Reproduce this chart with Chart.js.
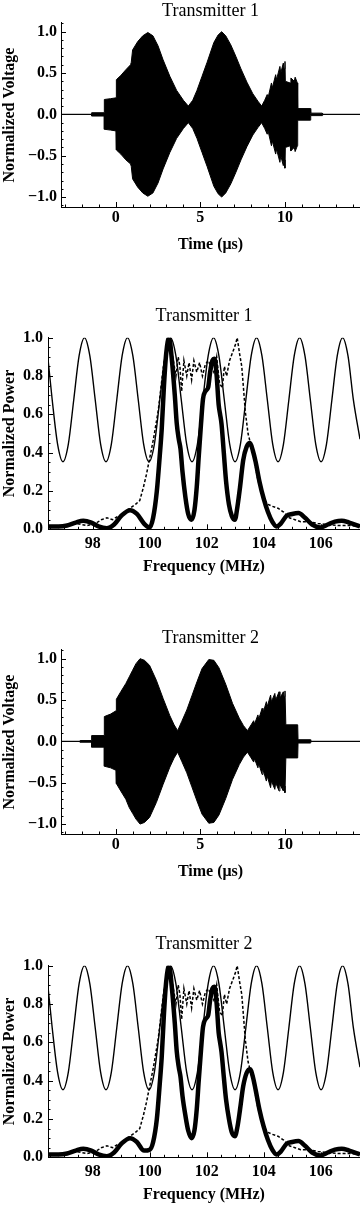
<!DOCTYPE html>
<html><head><meta charset="utf-8">
<script src="https://cdn.jsdelivr.net/npm/chart.js@4.4.0/dist/chart.umd.min.js"></script>
<style>
html,body{margin:0;padding:0;background:#fff;}
#wrap{position:relative;width:360px;height:1206px;overflow:hidden;background:#fff;}
canvas{position:absolute;left:0;}
</style></head><body>
<div id="wrap">
<canvas id="c1" width="360" height="300" style="top:0px"></canvas>
<canvas id="c2" width="360" height="300" style="top:300px"></canvas>
<canvas id="c3" width="360" height="300" style="top:627px"></canvas>
<canvas id="c4" width="360" height="278" style="top:928px"></canvas>
</div>
<script>
// ---------- tick labels ----------
const timeTicks = [0, 5, 10];
const voltTicks = [-1.0, -0.5, 0.0, 0.5, 1.0];
const freqTicks = [98, 100, 102, 104, 106];
const powerTicks = [0.0, 0.2, 0.4, 0.6, 0.8, 1.0];

// ---------- Transmitter 1: time-domain envelope (µs, normalized voltage) ----------
const time1 = [-3.3, -1.42, -1.42, -0.67, -0.67, -0.3, 0.02, 0.04, 0.3, 0.6, 0.88, 0.92, 1.0, 1.3, 1.6, 1.9, 2.2, 2.5, 2.8, 3.2, 3.6, 4.0, 4.29, 4.55, 4.8, 5.1, 5.4, 5.8, 6.05, 6.26, 6.5, 6.8, 7.1, 7.4, 7.75, 8.1, 8.4, 8.62, 8.8, 8.95, 9.0, 9.2, 9.25, 9.45, 9.5, 9.7, 9.75, 9.9, 9.95, 10.0, 10.02, 10.3, 10.35, 10.55, 10.6, 10.73, 10.75, 11.5, 11.52, 12.2, 12.22, 14.5];
const upper1 = [0, 0, 0.02, 0.02, 0.18, 0.19, 0.2, 0.42, 0.47, 0.54, 0.6, 0.63, 0.78, 0.88, 0.95, 0.99, 0.95, 0.83, 0.66, 0.46, 0.29, 0.17, 0.1, 0.17, 0.29, 0.46, 0.63, 0.87, 0.96, 1.0, 0.95, 0.84, 0.7, 0.55, 0.39, 0.25, 0.16, 0.1, 0.17, 0.24, 0.2, 0.38, 0.32, 0.48, 0.42, 0.58, 0.5, 0.62, 0.55, 0.64, 0.4, 0.38, 0.44, 0.4, 0.45, 0.38, 0.07, 0.07, 0.015, 0.015, 0, 0];
const lower1 = [0, 0, -0.02, -0.02, -0.18, -0.19, -0.2, -0.43, -0.48, -0.55, -0.6, -0.63, -0.78, -0.88, -0.95, -0.99, -0.95, -0.83, -0.66, -0.46, -0.29, -0.17, -0.1, -0.17, -0.29, -0.46, -0.63, -0.87, -0.96, -1.0, -0.95, -0.84, -0.7, -0.55, -0.39, -0.25, -0.16, -0.1, -0.17, -0.24, -0.2, -0.38, -0.32, -0.48, -0.42, -0.58, -0.5, -0.62, -0.55, -0.65, -0.4, -0.38, -0.44, -0.4, -0.45, -0.38, -0.07, -0.07, -0.015, -0.015, 0, 0];

// ---------- Transmitter 2: time-domain envelope ----------
const time2 = [-3.3, -2.1, -2.1, -1.42, -1.42, -0.67, -0.67, -0.3, 0.02, 0.04, 0.3, 0.6, 0.8, 1.0, 1.2, 1.44, 1.7, 2.0, 2.4, 2.8, 3.2, 3.45, 3.66, 3.9, 4.2, 4.5, 4.8, 5.1, 5.5, 5.8, 6.1, 6.5, 6.9, 7.3, 7.55, 7.78, 8.0, 8.15, 8.2, 8.4, 8.45, 8.65, 8.7, 8.9, 8.95, 9.15, 9.2, 9.4, 9.45, 9.65, 9.7, 9.9, 9.95, 10.0, 10.05, 10.75, 10.77, 11.5, 11.52, 14.5];
const upper2 = [0, 0, 0.01, 0.01, 0.07, 0.07, 0.3, 0.33, 0.37, 0.51, 0.6, 0.7, 0.78, 0.86, 0.94, 1.0, 0.98, 0.92, 0.74, 0.52, 0.31, 0.2, 0.13, 0.24, 0.38, 0.55, 0.72, 0.88, 0.99, 0.98, 0.89, 0.69, 0.46, 0.28, 0.19, 0.13, 0.2, 0.25, 0.21, 0.32, 0.27, 0.4, 0.34, 0.48, 0.42, 0.56, 0.48, 0.58, 0.5, 0.6, 0.52, 0.6, 0.54, 0.61, 0.2, 0.2, 0.02, 0.02, 0, 0];
const lower2 = [0, 0, -0.01, -0.01, -0.07, -0.07, -0.3, -0.32, -0.35, -0.51, -0.6, -0.7, -0.8, -0.87, -0.94, -1.0, -0.98, -0.92, -0.74, -0.52, -0.31, -0.2, -0.13, -0.24, -0.38, -0.55, -0.72, -0.88, -0.99, -0.98, -0.89, -0.69, -0.46, -0.28, -0.19, -0.13, -0.2, -0.25, -0.21, -0.32, -0.27, -0.4, -0.34, -0.48, -0.42, -0.56, -0.48, -0.58, -0.5, -0.6, -0.52, -0.6, -0.54, -0.62, -0.2, -0.2, -0.02, -0.02, 0, 0];

// ---------- spectra (MHz, normalized power) ----------
const filterFreq = [96.43, 96.578, 96.766, 96.955, 97.144, 97.333, 97.521, 97.71, 97.899, 98.088, 98.276, 98.465, 98.654, 98.843, 99.031, 99.22, 99.409, 99.598, 99.786, 99.975, 100.164, 100.353, 100.541, 100.73, 100.919, 101.108, 101.296, 101.485, 101.674, 101.863, 102.051, 102.24, 102.429, 102.618, 102.806, 102.995, 103.184, 103.373, 103.561, 103.75, 103.939, 104.128, 104.316, 104.505, 104.694, 104.883, 105.071, 105.26, 105.449, 105.638, 105.826, 106.015, 106.204, 106.393, 106.581, 106.77, 106.959, 107.148, 107.38];
const filterResp = [0.89, 0.675, 0.445, 0.353, 0.445, 0.675, 0.905, 1.0, 0.905, 0.675, 0.445, 0.353, 0.445, 0.675, 0.905, 1.0, 0.905, 0.675, 0.445, 0.353, 0.445, 0.675, 0.905, 1.0, 0.905, 0.675, 0.445, 0.353, 0.445, 0.675, 0.905, 1.0, 0.905, 0.675, 0.445, 0.353, 0.445, 0.675, 0.905, 1.0, 0.905, 0.675, 0.445, 0.353, 0.445, 0.675, 0.905, 1.0, 0.905, 0.675, 0.445, 0.353, 0.445, 0.675, 0.905, 1.0, 0.905, 0.675, 0.47];

const dashFreq = [96.43, 96.8, 97.1, 97.4, 97.8, 98.1, 98.3, 98.5, 98.7, 98.9, 99.1, 99.3, 99.5, 99.65, 99.78, 99.89, 100.01, 100.13, 100.3, 100.48, 100.65, 100.75, 100.83, 100.92, 101.0, 101.06, 101.12, 101.2, 101.3, 101.38, 101.47, 101.55, 101.65, 101.75, 101.85, 101.95, 102.05, 102.15, 102.25, 102.35, 102.45, 102.55, 102.62, 102.7, 102.8, 102.9, 103.0, 103.07, 103.15, 103.23, 103.3, 103.35, 103.45, 103.55, 103.65, 103.78, 103.9, 104.0, 104.15, 104.3, 104.5, 104.7, 104.9, 105.1, 105.3, 105.6, 105.9, 106.2, 106.6, 107.0, 107.38];
const dashPower = [0.015, 0.01, 0.02, 0.03, 0.02, 0.03, 0.05, 0.06, 0.05, 0.07, 0.08, 0.11, 0.13, 0.15, 0.22, 0.29, 0.38, 0.47, 0.62, 0.85, 1.0, 0.95, 0.88, 0.8, 0.9, 0.85, 0.72, 0.88, 0.8, 0.87, 0.78, 0.88, 0.82, 0.87, 0.8, 0.86, 0.88, 0.85, 0.82, 0.9, 0.76, 0.74, 0.85, 0.8, 0.88, 0.92, 0.96, 1.0, 0.92, 0.85, 0.72, 0.62, 0.5, 0.44, 0.38, 0.27, 0.2, 0.16, 0.13, 0.12, 0.11, 0.09, 0.06, 0.05, 0.04, 0.04, 0.03, 0.025, 0.02, 0.02, 0.015];

const thickFreq = [96.43, 96.8, 97.1, 97.4, 97.67, 97.95, 98.2, 98.49, 98.75, 99.0, 99.31, 99.55, 99.8, 100.0, 100.12, 100.25, 100.35, 100.42, 100.5, 100.58, 100.68, 100.78, 100.88, 100.95, 101.02, 101.08, 101.15, 101.25, 101.35, 101.47, 101.57, 101.65, 101.72, 101.8, 101.87, 101.95, 102.05, 102.12, 102.2, 102.28, 102.35, 102.42, 102.47, 102.52, 102.6, 102.68, 102.78, 102.88, 102.99, 103.08, 103.17, 103.28, 103.4, 103.52, 103.62, 103.72, 103.85, 104.0, 104.15, 104.3, 104.45, 104.6, 104.8, 105.0, 105.22, 105.45, 105.7, 105.98, 106.25, 106.5, 106.74, 107.0, 107.38];
const thickPower1 = [0.015, 0.015, 0.02, 0.035, 0.045, 0.035, 0.015, 0.005, 0.025, 0.07, 0.1, 0.08, 0.03, 0.01, 0.06, 0.2, 0.38, 0.52, 0.75, 0.92, 1.0, 0.88, 0.7, 0.55, 0.47, 0.42, 0.3, 0.17, 0.08, 0.05, 0.1, 0.22, 0.38, 0.55, 0.68, 0.72, 0.74, 0.82, 0.88, 0.89, 0.8, 0.65, 0.6, 0.55, 0.4, 0.25, 0.13, 0.07, 0.05, 0.12, 0.22, 0.36, 0.43, 0.45, 0.41, 0.35, 0.25, 0.16, 0.09, 0.04, 0.015, 0.03, 0.07, 0.08, 0.085, 0.06, 0.025, 0.01, 0.025, 0.04, 0.045, 0.035, 0.015];
const thickPower2 = [0.015, 0.015, 0.02, 0.035, 0.045, 0.035, 0.015, 0.005, 0.025, 0.07, 0.1, 0.08, 0.035, 0.04, 0.08, 0.2, 0.38, 0.52, 0.75, 0.92, 1.0, 0.88, 0.7, 0.55, 0.47, 0.42, 0.32, 0.22, 0.14, 0.1, 0.14, 0.25, 0.4, 0.56, 0.68, 0.72, 0.74, 0.82, 0.88, 0.89, 0.8, 0.65, 0.6, 0.55, 0.42, 0.3, 0.2, 0.13, 0.11, 0.16, 0.25, 0.37, 0.44, 0.46, 0.42, 0.35, 0.25, 0.16, 0.09, 0.04, 0.015, 0.03, 0.07, 0.08, 0.085, 0.06, 0.025, 0.01, 0.025, 0.04, 0.045, 0.035, 0.015];

// ---------- rendering ----------
const SERIF = "'Liberation Serif','Times New Roman',serif";
Chart.defaults.font.family = SERIF;
Chart.defaults.color = '#000';
const pts = (xs, ys) => xs.map((x, i) => ({x: x, y: ys[i]}));
const fmt = v => (v < 0 ? '\u2212' : '') + Math.abs(v).toFixed(1);

const inTicks = {
  id: 'inTicks',
  afterDraw(chart, args, o) {
    const ctx = chart.ctx, a = chart.chartArea;
    ctx.save();
    ctx.strokeStyle = '#000';
    ctx.lineWidth = 1;
    const draw = (scale, major, step, horiz) => {
      const k0 = Math.ceil(scale.min / step - 1e-6), k1 = Math.floor(scale.max / step + 1e-6);
      for (let k = k0; k <= k1; k++) {
        const v = k * step;
        const isMajor = major.some(m => Math.abs(m - v) < step / 10);
        const len = isMajor ? 5 : 2.5;
        const p = Math.round(scale.getPixelForValue(v)) + 0.5;
        ctx.beginPath();
        if (horiz) { ctx.moveTo(p, a.bottom); ctx.lineTo(p, a.bottom - len); }
        else { ctx.moveTo(a.left, p); ctx.lineTo(a.left + len, p); }
        ctx.stroke();
      }
    };
    draw(chart.scales.x, o.xMajor, o.xMinor, true);
    draw(chart.scales.y, o.yMajor, o.yMinor, false);
    ctx.restore();
  }
};

function axisBase() {
  return {
    type: 'linear',
    grid: {display: false, drawTicks: false},
    border: {display: true, color: '#000', width: 1},
  };
}

function timeChart(id, title, t, up, lo) {
  return new Chart(document.getElementById(id), {
    type: 'line',
    data: {datasets: [
      {data: pts(t, up), borderColor: '#000', backgroundColor: '#000', borderWidth: 1, pointRadius: 0, fill: '+1', tension: 0},
      {data: pts(t, lo), borderColor: '#000', backgroundColor: '#000', borderWidth: 1, pointRadius: 0, fill: false, tension: 0}
    ]},
    options: {
      responsive: false, animation: false, devicePixelRatio: 1,
      layout: {padding: 0},
      plugins: {
        legend: {display: false}, tooltip: {enabled: false},
        title: {display: true, text: title, fullSize: false, color: '#000',
          font: {family: SERIF, size: 18, weight: 'normal', lineHeight: 1.2}, padding: {top: 0, bottom: 1.4}},
        inTicks: {xMajor: timeTicks, xMinor: 1, yMajor: voltTicks, yMinor: 0.1}
      },
      scales: {
        x: Object.assign(axisBase(), {
          min: -3.23, max: 14.43,
          afterFit: s => { s.height = 93; },
          afterBuildTicks: s => { s.ticks = timeTicks.map(v => ({value: v})); },
          ticks: {padding: 1.5, maxRotation: 0, autoSkip: false, color: '#000', font: {size: 16, weight: 'bold'}, callback: v => String(v)},
          title: {display: true, text: 'Time (\u03bcs)', color: '#000', font: {size: 16, weight: 'bold', lineHeight: 1.2}, padding: {top: 0, bottom: 45.4}}
        }),
        y: Object.assign(axisBase(), {
          min: -1.12, max: 1.105,
          afterFit: s => { s.width = 61; },
          afterBuildTicks: s => { s.ticks = voltTicks.map(v => ({value: v})); },
          ticks: {padding: 4, autoSkip: false, color: '#000', font: {size: 16, weight: 'bold'}, callback: v => fmt(v)},
          title: {display: true, text: 'Normalized Voltage', color: '#000', font: {size: 16, weight: 'bold', lineHeight: 1.2}, padding: {top: 0.4, bottom: 0}}
        })
      }
    },
    plugins: [inTicks]
  });
}

function specChart(id, title, thick, xh, xpb) {
  return new Chart(document.getElementById(id), {
    type: 'line',
    data: {datasets: [
      {data: pts(thickFreq, thick), borderColor: '#000', borderWidth: 4.5, pointRadius: 0, fill: false, cubicInterpolationMode: 'monotone'},
      {data: pts(dashFreq, dashPower), borderColor: '#000', borderWidth: 1.5, borderDash: [3, 2], pointRadius: 0, fill: false, tension: 0},
      {data: pts(filterFreq, filterResp), borderColor: '#000', borderWidth: 1.4, pointRadius: 0, fill: false, cubicInterpolationMode: 'monotone'}
    ]},
    options: {
      responsive: false, animation: false, devicePixelRatio: 1,
      layout: {padding: 0},
      plugins: {
        legend: {display: false}, tooltip: {enabled: false},
        title: {display: true, text: title, fullSize: false, color: '#000',
          font: {family: SERIF, size: 18, weight: 'normal', lineHeight: 1.2}, padding: {top: 5.2, bottom: 10.9}},
        inTicks: {xMajor: freqTicks, xMinor: 0.5, yMajor: powerTicks, yMinor: 0.05}
      },
      scales: {
        x: Object.assign(axisBase(), {
          min: 96.43, max: 107.38,
          afterFit: s => { s.height = xh; },
          afterBuildTicks: s => { s.ticks = freqTicks.map(v => ({value: v})); },
          ticks: {padding: 5, maxRotation: 0, autoSkip: false, color: '#000', font: {size: 16, weight: 'bold'}, callback: v => String(v)},
          title: {display: true, text: 'Frequency (MHz)', color: '#000', font: {size: 16, weight: 'bold', lineHeight: 1.2}, padding: {top: 0, bottom: xpb}}
        }),
        y: Object.assign(axisBase(), {
          min: 0, max: 1,
          afterFit: s => { s.width = 48; },
          afterBuildTicks: s => { s.ticks = powerTicks.map(v => ({value: v})); },
          ticks: {padding: 5, autoSkip: false, color: '#000', font: {size: 16, weight: 'bold'}, callback: v => fmt(v)},
          title: {display: true, text: 'Normalized Power', color: '#000', font: {size: 16, weight: 'bold', lineHeight: 1.2}, padding: {top: 0, bottom: 0}}
        })
      }
    },
    plugins: [inTicks]
  });
}

timeChart('c1', 'Transmitter 1', time1, upper1, lower1);
specChart('c2', 'Transmitter 1', thickPower1, 70.7, 23.4);
timeChart('c3', 'Transmitter 2', time2, upper2, lower2);
specChart('c4', 'Transmitter 2', thickPower2, 48.7, 1.8);
</script>
</body></html>
